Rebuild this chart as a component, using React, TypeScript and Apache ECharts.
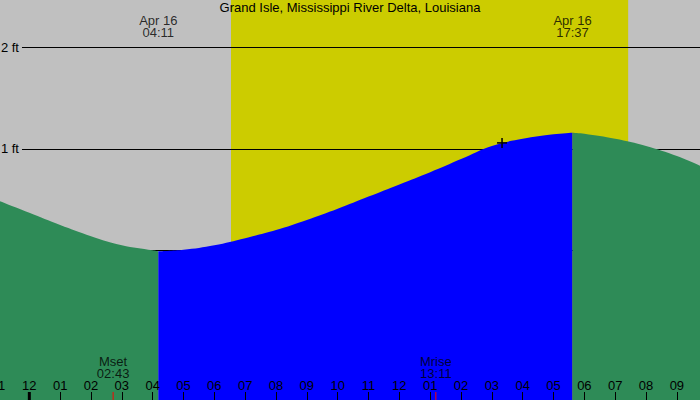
import React, { useEffect, useRef } from "react";
import * as echarts from "echarts";

// Tide curve (hours from midnight, Apr 16; height in ft)
const fallHours1 = [-1, 0, 1, 2, 3, 4, 4.183];
const fallFt1 = [0.49, 0.37, 0.25, 0.14, 0.05, 0.0, -0.01];
const riseHours = [4.183, 5, 6, 7, 8, 9, 10, 11, 12, 13, 14, 15, 16, 17, 17.617];
const riseFt = [-0.01, 0.005, 0.05, 0.12, 0.2, 0.3, 0.41, 0.53, 0.65, 0.77, 0.9, 1.03, 1.1, 1.145, 1.16];
const fallHours2 = [17.617, 18, 19, 20, 21, 22];
const fallFt2 = [1.16, 1.15, 1.1, 1.03, 0.93, 0.8];

const tideEventLabels = ["Apr 16\n04:11", "Apr 16\n17:37"];
const tideEventHours = [4.183, 17.617];
const moonEventLabels = ["Mset\n02:43", "Mrise\n13:11"];
const moonEventHours = [2.717, 13.183];
const sunriseHour = 6.54;
const sunsetHour = 19.42;
const nowHour = 15.33;
const nowFt = 1.06;
const gridFeet = [0, 1, 2];
const title = "Grand Isle, Mississippi River Delta, Louisiana";

const X_MIN = -1;
const X_MAX = 21.75;
const Y_MIN = -1.477;
const Y_MAX = 2.47;
const FONT = "'Liberation Sans', Arial, sans-serif";
const FS = 13;

function toPairs(xs: number[], ys: number[]) {
  return xs.map((x, i) => [x, ys[i]]);
}

export default function App() {
  const ref = useRef<HTMLDivElement>(null);
  useEffect(() => {
    document.body.style.margin = "0";
    if (!ref.current) return;
    const chart = echarts.init(ref.current, null, { renderer: "svg" });
    const tickTop = -1.398;
    const gridStart = -0.238;

    const tideSeries = (name: string, data: number[][], color: string) => ({
      name,
      type: "line",
      data,
      smooth: 0.4,
      showSymbol: false,
      symbol: "none",
      lineStyle: { width: 0, color },
      areaStyle: { color, opacity: 1, origin: "start" },
      z: 10,
      silent: true,
    });

    const textLabel = {
      show: true,
      position: [0, 0],
      align: "center",
      verticalAlign: "middle",
      lineHeight: 12,
      color: "#000",
      fontSize: FS,
      fontFamily: FONT,
    };

    const plusBar = (name: string, size: number[]) => ({
      name,
      type: "scatter",
      data: [[nowHour, nowFt]],
      symbol: "rect",
      symbolSize: size,
      itemStyle: { color: "#000", opacity: 1 },
      z: 22,
      silent: true,
    });

    const option: any = {
      animation: false,
      backgroundColor: "#C0C0C0",
      title: {
        text: title,
        left: "center",
        top: 0,
        padding: 0,
        textStyle: { fontSize: FS, fontWeight: "normal", color: "#000", fontFamily: FONT, lineHeight: 15 },
      },
      grid: { left: -1.5, right: 0, top: 0, bottom: 0, containLabel: false, outerBoundsMode: "none" },
      xAxis: {
        type: "value",
        min: X_MIN,
        max: X_MAX,
        interval: 1,
        z: 20,
        axisLine: { show: false, onZero: false },
        splitLine: { show: false },
        axisTick: { show: true, inside: true, length: 8, lineStyle: { color: "#000", width: 1 } },
        axisLabel: {
          show: true,
          inside: true,
          margin: 8,
          interval: 0,
          showMinLabel: true,
          showMaxLabel: false,
          hideOverlap: false,
          color: "#000",
          fontSize: FS,
          fontFamily: FONT,
          formatter: (v: number) => {
            const h = ((Math.round(v) % 12) + 12) % 12;
            return String(h === 0 ? 12 : h).padStart(2, "0");
          },
        },
      },
      yAxis: {
        type: "value",
        min: Y_MIN,
        max: Y_MAX,
        show: false,
        splitLine: { show: false },
      },
      series: [
        {
          name: "daylight",
          type: "line",
          data: [],
          silent: true,
          markArea: {
            silent: true,
            itemStyle: { color: "#CCCC00", opacity: 1 },
            data: [[{ xAxis: sunriseHour }, { xAxis: sunsetHour }]],
          },
          markLine: {
            silent: true,
            symbol: "none",
            lineStyle: { color: "#000", width: 1, type: "solid" },
            label: {
              show: true,
              position: "start",
              distance: 3,
              formatter: "{b}",
              color: "#000",
              fontSize: FS,
              fontFamily: FONT,
            },
            data: gridFeet.map((f) => [
              { coord: [gridStart, f], name: `${f} ft` },
              { coord: [X_MAX, f] },
            ]),
          },
        },
        tideSeries("falling1", toPairs(fallHours1, fallFt1), "#2E8B57"),
        tideSeries("rising", toPairs(riseHours, riseFt), "#0000FF"),
        tideSeries("falling2", toPairs(fallHours2, fallFt2), "#2E8B57"),
        {
          name: "midnight",
          type: "line",
          data: [
            [0, Y_MIN],
            [0, tickTop],
          ],
          symbol: "none",
          lineStyle: { color: "#000", width: 3 },
          z: 21,
          silent: true,
        },
        ...moonEventHours.map((h, i) => ({
          name: "moonTick" + i,
          type: "line",
          data: [
            [h, Y_MIN],
            [h, tickTop],
          ],
          symbol: "none",
          lineStyle: { color: "#FF0000", width: 1 },
          z: 21,
          silent: true,
        })),
        plusBar("nowH", [10, 1.5]),
        plusBar("nowV", [1.5, 10]),
        {
          name: "tideLabels",
          type: "scatter",
          data: tideEventHours.map((h, i) => ({ value: [h, 2.213], label: { formatter: tideEventLabels[i] } })),
          symbolSize: 0,
          z: 22,
          silent: true,
          label: textLabel,
        },
        {
          name: "moonLabels",
          type: "scatter",
          data: moonEventHours.map((h, i) => ({ value: [h, -1.156], label: { formatter: moonEventLabels[i] } })),
          symbolSize: 0,
          z: 22,
          silent: true,
          label: textLabel,
        },
      ],
    };
    chart.setOption(option);
    return () => chart.dispose();
  }, []);
  return <div ref={ref} style={{ width: 700, height: 400 }} />;
}
